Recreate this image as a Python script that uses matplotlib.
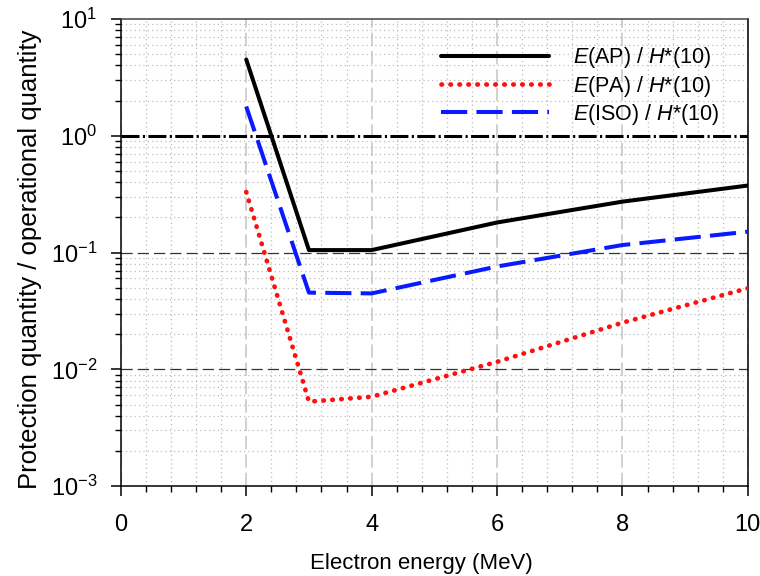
import matplotlib
matplotlib.use("Agg")
import matplotlib.pyplot as plt
from matplotlib.ticker import MultipleLocator, LogLocator, NullFormatter

plt.rcParams['font.family'] = ['Liberation Sans', 'DejaVu Sans']
plt.rcParams['mathtext.fontset'] = 'custom'
plt.rcParams['mathtext.rm'] = 'Liberation Sans'
plt.rcParams['mathtext.it'] = 'Liberation Sans:italic'

energy = [2, 3, 4, 6, 8, 10]
ap = [4.5, 0.105, 0.105, 0.181, 0.273, 0.375]
pa = [0.33, 0.00529, 0.00583, 0.0116, 0.0251, 0.0495]
iso = [1.78, 0.0454, 0.0447, 0.076, 0.116, 0.151]

labels = [r'$\it{E}$(AP) / $\it{H}$*(10)',
          r'$\it{E}$(PA) / $\it{H}$*(10)',
          r'$\it{E}$(ISO) / $\it{H}$*(10)']

fig = plt.figure(figsize=(7.6, 5.76), dpi=100)
ax = fig.add_axes([0.159, 0.156, 0.825, 0.811])

ax.set_xlim(0, 10)
ax.set_yscale('log')
ax.set_ylim(1e-3, 10)

ax.xaxis.set_major_locator(MultipleLocator(2))
ax.xaxis.set_minor_locator(MultipleLocator(0.4))
ax.yaxis.set_major_locator(LogLocator(base=10, numticks=10))
ax.yaxis.set_minor_locator(LogLocator(base=10, subs=range(2, 10), numticks=20))
ax.yaxis.set_minor_formatter(NullFormatter())

# grids
ax.grid(which='minor', axis='both', color='#bdbdbd', linestyle=(0, (1, 2.5)), linewidth=0.9)
ax.grid(which='major', axis='x', color='#c8c8c8', linestyle=(0, (8, 3)), linewidth=1.2)
ax.grid(which='major', axis='y', visible=False)
for yv in [0.1, 0.01]:
    ax.axhline(yv, color='#333333', linestyle=(0, (9, 4)), linewidth=0.9, zorder=2)
ax.axhline(1.0, color='black', linestyle=(0, (5.9, 1.1, 0.7, 1.1)), linewidth=2.2, zorder=2)

ax.plot(energy, ap, color='black', linewidth=2.9, solid_capstyle='round',
        solid_joinstyle='round', label=labels[0], zorder=4)
ax.plot(energy, pa, color='#ff1010', linewidth=3.4, linestyle=(0, (0.1, 1.8)),
        dash_capstyle='round', label=labels[1], zorder=4)
ax.plot(energy, iso, color='#0a1aff', linewidth=2.9, linestyle=(0, (6.5, 2.3)),
        label=labels[2], zorder=4)

ax.tick_params(axis='both', which='major', direction='out', length=7, width=1.1,
               labelsize=17, colors='black')
ax.tick_params(axis='x', which='major', pad=13)
ax.tick_params(axis='x', which='minor', direction='out', length=4, width=1.0)
ax.tick_params(axis='y', which='minor', direction='out', length=4, width=1.0)
ax.tick_params(axis='y', which='major', pad=10)

for s in ['left', 'bottom', 'right']:
    ax.spines[s].set_color('black')
    ax.spines[s].set_linewidth(1.1)
ax.spines['top'].set_color('#444444')
ax.spines['top'].set_linewidth(1.1)

ax.set_xlabel('Electron energy (MeV)', fontsize=16, labelpad=12)
ax.set_ylabel('Protection quantity / operational quantity', fontsize=18.5, labelpad=6)
ax.xaxis.label.set_x(0.48)
ax.yaxis.label.set_y(0.486)

leg = ax.legend(loc='upper right', frameon=False, fontsize=15.5, handlelength=5.0,
                handletextpad=1.1, labelspacing=0.15, bbox_to_anchor=(0.985, 0.985))

fig.savefig('out.png', dpi=100)
